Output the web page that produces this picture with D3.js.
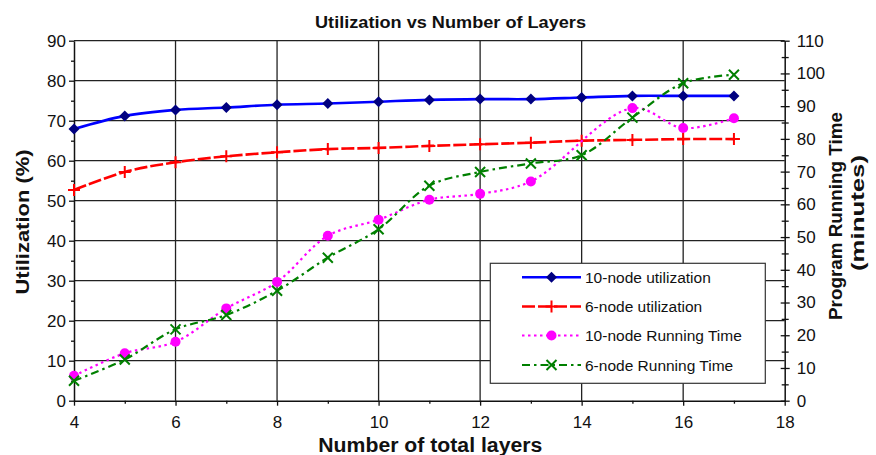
<!DOCTYPE html>
<html><head><meta charset="utf-8">
<script src="https://cdn.jsdelivr.net/npm/d3@7/dist/d3.min.js"></script>
<style>
html,body{margin:0;padding:0;background:#fff;}
svg{display:block;font-family:"Liberation Sans",Arial,Helvetica,sans-serif;}
</style></head>
<body>
<svg id="chart" width="876" height="455"></svg>
<script>
const layers = [4,5,6,7,8,9,10,11,12,13,14,15,16,17];
const util10 = [67.9,71.2,72.7,73.3,74.0,74.3,74.75,75.2,75.4,75.4,75.8,76.2,76.2,76.2];
const util6  = [52.7,57.2,59.6,61.1,62.1,62.9,63.2,63.7,64.1,64.5,65.0,65.2,65.4,65.4];
const time10 = [7.6,14.5,18.0,28.2,36.3,50.4,55.3,61.4,63.2,67.0,null,89.4,83.3,86.3];
const time6  = [6.1,12.6,21.8,26.2,33.6,43.7,52.4,65.7,69.9,72.5,75.0,86.5,97.0,99.6];
const seriesNames = ["10-node utilization","6-node utilization","10-node Running Time","6-node Running Time"];
const xTicks = [4,6,8,10,12,14,16,18];
const yLeftTicks = [0,10,20,30,40,50,60,70,80,90];
const yRightTicks = [0,10,20,30,40,50,60,70,80,90,100,110];
const titleText = "Utilization vs Number of Layers";
const xTitle = "Number of total layers";
const yLeftTitle = "Utilization (%)";
const yRightTitle = ["Program Running Time","(minutes)"];

const svg = d3.select("#chart");
const L = 74, R = 784.7, T = 40.7, B = 400.7;
const x = d3.scaleLinear([4,18],[L,R]);
const yL = d3.scaleLinear([0,90],[B,T]);
const yR = d3.scaleLinear([0,110],[B,T]);

// grid
const grid = svg.append("g").attr("stroke","#222").attr("stroke-width",1.3);
grid.selectAll("line.h").data(yLeftTicks.filter(d=>d>0)).join("line")
  .attr("x1",L).attr("x2",R).attr("y1",d=>yL(d)).attr("y2",d=>yL(d));
grid.selectAll("line.v").data(xTicks.filter(d=>d>4&&d<18)).join("line").attr("class","v")
  .attr("y1",T).attr("y2",B).attr("x1",d=>x(d)).attr("x2",d=>x(d));

function styleAxis(g){
  g.select(".domain").attr("stroke","#111").attr("stroke-width",1.5);
  g.selectAll(".tick line").attr("stroke","#111").attr("stroke-width",1.3);
  g.selectAll("text").attr("font-size","17px").attr("fill","#111")
   .attr("font-family","'Liberation Sans',Arial,Helvetica,sans-serif");
}
// left axis
const gl = svg.append("g").attr("transform",`translate(${L},0)`)
  .call(d3.axisLeft(yL).tickValues(yLeftTicks).tickSize(5).tickPadding(3).tickSizeOuter(0));
styleAxis(gl);
const glm = svg.append("g").attr("transform",`translate(${L},0)`)
  .call(d3.axisLeft(yL).tickValues(yLeftTicks.slice(0,-1).map(d=>d+5)).tickSize(3).tickFormat(""));
styleAxis(glm); glm.select(".domain").remove();
// right axis
const gr = svg.append("g").attr("transform",`translate(${R},0)`)
  .call(d3.axisRight(yR).tickValues(yRightTicks).tickSize(5).tickPadding(7).tickSizeOuter(0));
styleAxis(gr);
gr.selectAll(".tick line").attr("x1",-4);
const grm = svg.append("g").attr("transform",`translate(${R},0)`)
  .call(d3.axisRight(yR).tickValues(yRightTicks.slice(0,-1).map(d=>d+5)).tickSize(4).tickFormat(""));
styleAxis(grm); grm.select(".domain").remove();
grm.selectAll(".tick line").attr("x1",-3);
// bottom axis
const gb = svg.append("g").attr("transform",`translate(0,${B})`)
  .call(d3.axisBottom(x).tickValues(xTicks).tickSize(5).tickPadding(10.5).tickSizeOuter(0));
styleAxis(gb);
const gbm = svg.append("g").attr("transform",`translate(0,${B})`)
  .call(d3.axisBottom(x).tickValues(xTicks.slice(0,-1).map(d=>d+1)).tickSize(3).tickFormat(""));
styleAxis(gbm); gbm.select(".domain").remove();

// series
const styles = [
  {vals:util10, y:yL, color:"#0000ff", w:2.6, dash:null, marker:"diamond", mcolor:"#000080"},
  {vals:util6,  y:yL, color:"#ff0000", w:2.6, dash:"13,3", marker:"plus", mcolor:"#ff0000"},
  {vals:time10, y:yR, color:"#ff00ff", w:2.2, dash:"2.5,3.5", marker:"circle", mcolor:"#ff00ff"},
  {vals:time6,  y:yR, color:"#008000", w:2.2, dash:"8,4,2.5,4", marker:"x", mcolor:"#008000"}
];
function drawMarker(g, type, cx, cy, color){
  if(type==="diamond"){
    g.append("path").attr("d",`M${cx},${cy-5.5}L${cx+5.5},${cy}L${cx},${cy+5.5}L${cx-5.5},${cy}Z`).attr("fill",color);
  } else if(type==="plus"){
    g.append("path").attr("d",`M${cx-6},${cy}H${cx+6}M${cx},${cy-6}V${cy+6}`).attr("stroke",color).attr("stroke-width",2).attr("fill","none");
  } else if(type==="circle"){
    g.append("circle").attr("cx",cx).attr("cy",cy).attr("r",5).attr("fill",color);
  } else {
    g.append("path").attr("d",`M${cx-5},${cy-5}L${cx+5},${cy+5}M${cx-5},${cy+5}L${cx+5},${cy-5}`).attr("stroke",color).attr("stroke-width",2).attr("fill","none");
  }
}
const line = d3.line().curve(d3.curveCatmullRom.alpha(0.5));
styles.forEach(s=>{
  const pts = layers.map((l,i)=>[l,s.vals[i]]).filter(p=>p[1]!=null);
  const g = svg.append("g");
  g.append("path").attr("d",line(pts.map(p=>[x(p[0]),s.y(p[1])])))
    .attr("fill","none").attr("stroke",s.color).attr("stroke-width",s.w)
    .attr("stroke-dasharray",s.dash);
  pts.forEach(p=>drawMarker(g,s.marker,x(p[0]),s.y(p[1]),s.mcolor));
});

// legend
const lg = svg.append("g");
lg.append("rect").attr("x",490.3).attr("y",263.3).attr("width",275).attr("height",120)
  .attr("fill","#fff").attr("stroke","#333").attr("stroke-width",1.2);
const rows = [277.3,306.5,335.5,365];
styles.forEach((s,i)=>{
  const yy = rows[i];
  lg.append("line").attr("x1",522).attr("x2",581).attr("y1",yy).attr("y2",yy)
    .attr("stroke",s.color).attr("stroke-width",s.w).attr("stroke-dasharray",s.dash);
  drawMarker(lg,s.marker,551.5,yy,s.mcolor);
  lg.append("text").attr("x",585).attr("y",yy).attr("dy","0.36em")
    .attr("font-size","15.5px").attr("fill","#111").text(seriesNames[i]);
});

// titles
svg.append("text").attr("x",450.5).attr("y",28.3).attr("text-anchor","middle")
  .attr("font-size","17px").attr("font-weight","bold").attr("fill","#111")
  .attr("textLength",271).attr("lengthAdjust","spacingAndGlyphs").text(titleText);
svg.append("text").attr("x",430.3).attr("y",451.5).attr("text-anchor","middle")
  .attr("font-size","20px").attr("font-weight","bold").attr("fill","#111")
  .attr("textLength",224).attr("lengthAdjust","spacingAndGlyphs").text(xTitle);
svg.append("text").attr("transform","translate(28.5,222) rotate(-90)").attr("text-anchor","middle")
  .attr("font-size","19px").attr("font-weight","bold").attr("fill","#111")
  .attr("textLength",145).attr("lengthAdjust","spacingAndGlyphs").text(yLeftTitle);
svg.append("text").attr("transform","translate(841.5,216) rotate(-90)").attr("text-anchor","middle")
  .attr("font-size","18.6px").attr("font-weight","bold").attr("fill","#111")
  .attr("textLength",208).attr("lengthAdjust","spacingAndGlyphs").text(yRightTitle[0]);
svg.append("text").attr("transform","translate(864,213) rotate(-90)").attr("text-anchor","middle")
  .attr("font-size","18.6px").attr("font-weight","bold").attr("fill","#111")
  .attr("textLength",116).attr("lengthAdjust","spacingAndGlyphs").text(yRightTitle[1]);
</script>
</body></html>
